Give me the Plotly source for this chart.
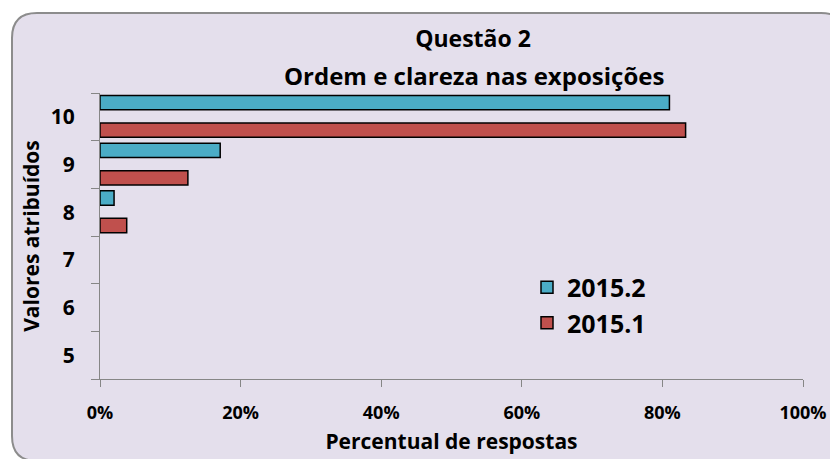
import plotly.graph_objects as go

# top bar first so the legend picks up a bordered point
categorias = ["10", "9", "8", "7", "6", "5"]
serie_2015_2 = [0.81, 0.171, 0.02, 0.0, 0.0, 0.0]
serie_2015_1 = [0.833, 0.125, 0.038, 0.0, 0.0, 0.0]
ordem_eixo = ["5", "6", "7", "8", "9", "10"]
x_ticks = [0, 0.2, 0.4, 0.6, 0.8, 1.0]

W, H = 838, 459
OFF = 8  # page body margin
# plot area wanted on the page: x 100..803, y 93..379
L, T = 100 - OFF, 93 - OFF
R, B = W - (803 - OFF), H - (379 - OFF)
PW, PH = W - L - R, H - T - B

FONT = "'Open Sans', Lato, sans-serif"


def px(x, y):
    # page pixel -> paper coords (frame decoration only)
    return (x - OFF - L) / PW, (H - B - (y - OFF)) / PH


def rounded_rect(x0, y0, x1, y1, r):
    def p(x, y):
        a, b = px(x, y)
        return f"{a:.5f},{b:.5f}"
    return " ".join([
        f"M{p(x0 + r, y0)}", f"L{p(x1 - r, y0)}",
        f"Q{p(x1, y0)} {p(x1, y0 + r)}", f"L{p(x1, y1 - r)}",
        f"Q{p(x1, y1)} {p(x1 - r, y1)}", f"L{p(x0 + r, y1)}",
        f"Q{p(x0, y1)} {p(x0, y1 - r)}", f"L{p(x0, y0 + r)}",
        f"Q{p(x0, y0)} {p(x0 + r, y0)}", "Z",
    ])


def outline(vals):
    # hide the border of empty bars
    return ["black" if v > 0 else "rgba(0,0,0,0)" for v in vals]


fig = go.Figure()
fig.add_trace(go.Bar(
    y=categorias, x=serie_2015_2, orientation="h",
    name="2015.2", legendgroup="a",
    marker=dict(color="#4BACC6", line=dict(color=outline(serie_2015_2), width=1.5)),
    width=0.3, offset=0.147,
))
fig.add_trace(go.Bar(
    y=categorias, x=serie_2015_1, orientation="h",
    name="2015.1", legendgroup="b",
    marker=dict(color="#C0504D", line=dict(color=outline(serie_2015_1), width=1.5)),
    width=0.3, offset=-0.43,
))

fig.update_layout(
    width=W, height=H,
    margin=dict(l=L, r=R, t=T, b=B, autoexpand=False),
    paper_bgcolor="white",
    plot_bgcolor="white",
    font=dict(family=FONT, color="black", weight="bold"),
    barmode="overlay",
    title=dict(
        text="Questão 2", font=dict(size=23, family=FONT, weight="bold"),
        x=(473 - OFF) / W, xref="container", xanchor="center",
        y=1 - (39 - OFF) / H, yref="container", yanchor="middle",
    ),
    annotations=[dict(
        text="Ordem e clareza nas exposições",
        xref="paper", yref="paper",
        x=(474 - 100) / PW, y=(379 - 75) / PH,
        xanchor="center", yanchor="middle",
        showarrow=False, font=dict(size=24, family=FONT, weight="bold"),
    )],
    xaxis=dict(
        range=[0, 1], tickvals=x_ticks, tickformat=".0%",
        showgrid=False, zeroline=False, automargin=False,
        showline=True, linecolor="#868686", linewidth=1,
        ticks="outside", ticklen=7, tickcolor="#868686",
        ticklabelstandoff=10,
        tickfont=dict(size=18, family=FONT, weight="bold"),
        title=dict(text="Percentual de respostas",
                   font=dict(size=21, family=FONT, weight="bold"), standoff=11),
    ),
    yaxis=dict(
        type="category", categoryorder="array", categoryarray=ordem_eixo,
        range=[-0.5, 5.5],
        showgrid=False, zeroline=False, automargin=False,
        showline=True, linecolor="#868686", linewidth=1,
        ticks="outside", ticklen=8, tickcolor="#868686",
        tickson="boundaries", ticklabelstandoff=20,
        tickfont=dict(size=21, family=FONT, weight="bold"),
        title=dict(text="Valores atribuídos",
                   font=dict(size=21, family=FONT, weight="bold"), standoff=5),
    ),
    legend=dict(
        x=(527 - 100) / PW, y=(379 - 305) / PH,
        xanchor="left", yanchor="middle",
        bgcolor="rgba(0,0,0,0)",
        font=dict(size=25, family=FONT, weight="bold"),
        traceorder="normal", tracegroupgap=14,
    ),
    showlegend=True,
    shapes=[dict(
        type="path", xref="paper", yref="paper",
        path=rounded_rect(12, 13, 846, 461, 25),
        fillcolor="#E4DFEC", line=dict(color="#8C8C8C", width=2),
        layer="below",
    )],
)

fig.write_html("out.html")
